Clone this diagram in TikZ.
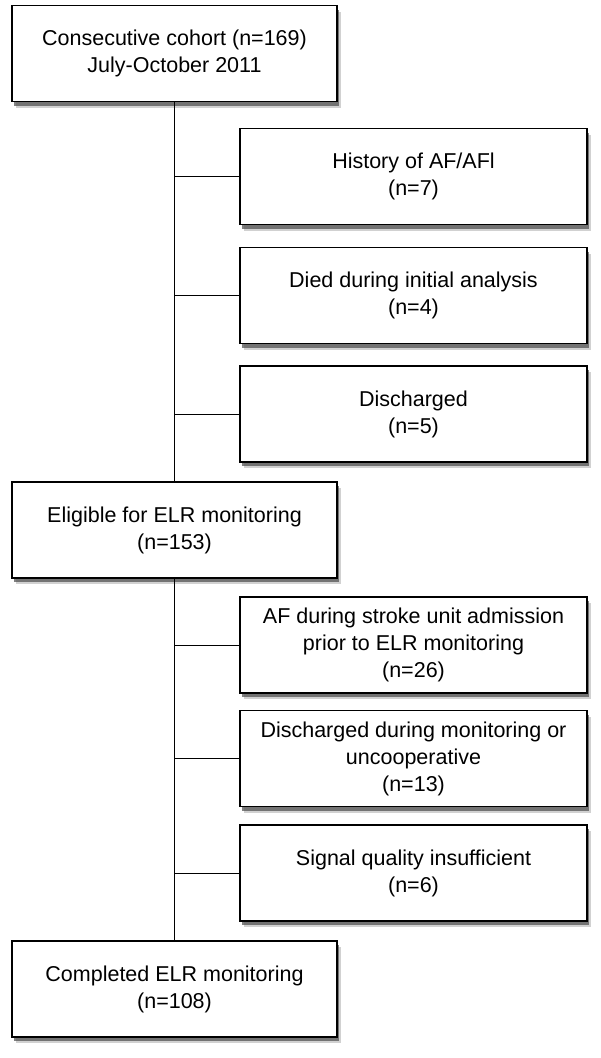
\documentclass[tikz,border=0pt]{standalone}
\usepackage{fontspec}
\setmainfont{Liberation Sans}
\usetikzlibrary{shadows}

\tikzset{
  box/.style={draw, line width=1.6pt, fill=white, align=center,
    minimum width=325pt, minimum height=96pt, inner sep=0pt,
    font=\fontsize{21.5}{27}\selectfont,
    drop shadow={shadow xshift=4pt, shadow yshift=-6pt, fill=black!30, opacity=0.6},
    drop shadow={shadow xshift=2pt, shadow yshift=-4pt, fill=black!70, opacity=0.7}},
  sidebox/.style={box, minimum width=347pt},
  link/.style={draw, line width=0.8pt}
}

\begin{document}
\begin{tikzpicture}[x=1pt, y=-1pt]
\useasboundingbox (0,0) rectangle (600,1058);

% Main boxes
\node [box] (cohort) at ( 174.5, 53.5 ) {Consecutive cohort (n=169)\\July-October 2011};
\node [box] (eligible) at ( 174.5, 530 ) {Eligible for ELR monitoring\\(n=153)};
\node [box] (completed) at ( 174.5, 989 ) {Completed ELR monitoring\\(n=108)};

% Exclusions before monitoring
\node [sidebox] (history) at ( 413.5, 176.5 ) {History of AF/AFl\\(n=7)};
\node [sidebox] (died) at ( 413.5, 295.5 ) {Died during initial analysis\\(n=4)};
\node [sidebox] (discharged) at ( 413.5, 414 ) {Discharged\\(n=5)};

% Exclusions during monitoring
\node [sidebox] (strokeaf) at ( 413.5, 645 ) {AF during stroke unit admission\\prior to ELR monitoring\\(n=26)};
\node [sidebox] (uncoop) at ( 413.5, 758.5 ) {Discharged during monitoring or\\uncooperative\\(n=13)};
\node [sidebox] (signal) at ( 413.5, 873 ) {Signal quality insufficient\\(n=6)};

% Trunks
\path [link] (cohort.south) -- (eligible.north);
\path [link] (eligible.south) -- (completed.north);

% Branches
\foreach \b in {history, died, discharged}
  \path [link] (cohort.south |- \b.west) -- (\b.west);
\foreach \b in {strokeaf, uncoop, signal}
  \path [link] (eligible.south |- \b.west) -- (\b.west);

\end{tikzpicture}
\end{document}
